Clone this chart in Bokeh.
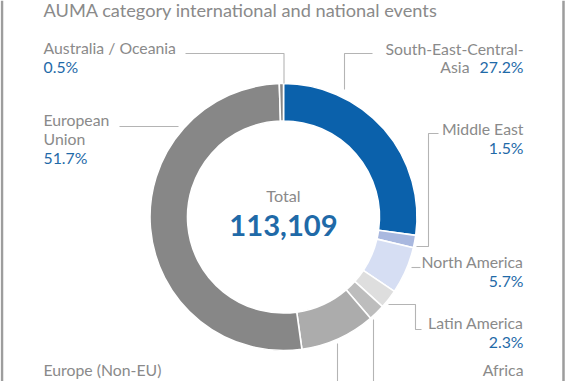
import numpy as np
from bokeh.plotting import figure
from bokeh.models import Range1d, ColumnDataSource
from bokeh.core.properties import value
from bokeh.embed import file_html
from bokeh.resources import INLINE

# ---------------- data ----------------
title_text = "AUMA category international and national events"
regions = ["South-East-Central-Asia", "Middle East", "North America", "Latin America",
           "Africa", "Europe (Non-EU)", "European Union", "Australia / Oceania"]
shares = [27.2, 1.5, 5.7, 2.3, 2.0, 9.1, 51.7, 0.5]
total_events = 113109
total_label = "Total"

# ---------------- styling ----------------
seg_colors = ["#0b61ab", "#a9b8df", "#d6def3", "#dedede", "#bdbdbd", "#acacac", "#878787", "#878787"]
GRAY_TXT = "#8a8a8a"
BLUE_TXT = "#1f6aa8"
LEAD = "#b4b4b4"
FONT = "Lato"

W, H = 567, 381
CX, CY = 283.0, 216.5       # donut centre (px)
R_OUT, R_IN = 133.5, 96.0
DY = 7                      # baseline correction for svg text

p = figure(width=W, height=H, output_backend="svg", toolbar_location=None,
           x_range=Range1d(0, W), y_range=Range1d(H, 0),
           min_border=0, outline_line_color=None, background_fill_color="white",
           border_fill_color="white")
p.axis.visible = False
p.grid.visible = False

# ---------------- donut ----------------
frac = np.array(shares) / sum(shares)
c1 = np.cumsum(frac)
c0 = c1 - frac
src = ColumnDataSource(dict(
    x=[CX] * len(regions), y=[CY] * len(regions),
    start=list(np.pi / 2 - 2 * np.pi * c0),
    end=list(np.pi / 2 - 2 * np.pi * c1),
    color=seg_colors, region=regions, share=shares))
p.annular_wedge(x="x", y="y", inner_radius=R_IN, outer_radius=R_OUT,
                start_angle="start", end_angle="end", direction="clock",
                fill_color="color", line_color="white", line_width=1.6, source=src)

# ---------------- frame lines ----------------
p.segment(x0=[1.5, 563.0], y0=[0, 0], x1=[1.5, 563.0], y1=[H, H],
          line_color="#9d9d9d", line_width=2.5)

# ---------------- leader lines ----------------
leaders_x = [[185, 283.5, 283.5], [372, 344, 344], [119, 178],
             [438, 428, 428, 416], [411, 420], [388, 415, 415, 421],
             [373, 373], [337, 337]]
leaders_y = [[53, 53, 83], [53, 53, 89], [126, 126],
             [133, 133, 246, 246], [267, 267], [304, 304, 329, 329],
             [319, 395], [343, 395]]
p.multi_line(xs=leaders_x, ys=leaders_y, line_color=LEAD, line_width=1.1)

pct = [f"{s:.1f}%" for s in shares]


def txt(x, y, t, color, align, size=15.8, style="normal"):
    p.text(x=[x], y=[y - DY], text=[t], text_color=color, text_align=align,
           text_baseline="alphabetic", text_font=value(FONT),
           text_font_size=value(f"{size}px"), text_font_style=style)


# title
txt(43, 16, title_text, GRAY_TXT, "left", 18.2)

# Australia / Oceania
txt(43, 54, regions[7], GRAY_TXT, "left")
txt(43, 73, pct[7], BLUE_TXT, "left")

# South-East-Central-Asia (wrapped)
txt(523, 55, "South-East-Central-", GRAY_TXT, "right")
txt(469, 73, "Asia", GRAY_TXT, "right")
txt(523, 73, pct[0], BLUE_TXT, "right")

# European Union (wrapped)
txt(43, 126, "European", GRAY_TXT, "left")
txt(43, 145, "Union", GRAY_TXT, "left")
txt(43, 164, pct[6], BLUE_TXT, "left")

# right side labels
for i, yb in [(1, 135), (2, 268), (3, 329)]:
    txt(523, yb, regions[i], GRAY_TXT, "right")
    txt(523, yb + 19, pct[i], BLUE_TXT, "right")

# bottom labels (only their names show at the lower edge)
txt(523, 376, regions[4], GRAY_TXT, "right")
txt(43, 376, regions[5], GRAY_TXT, "left")

# centre
txt(CX, 202, total_label, GRAY_TXT, "center", 16.2)
txt(CX, 232, f"{total_events:,}", BLUE_TXT, "center", 29.2, "bold")

open("out.html", "w").write(file_html(p, INLINE))
